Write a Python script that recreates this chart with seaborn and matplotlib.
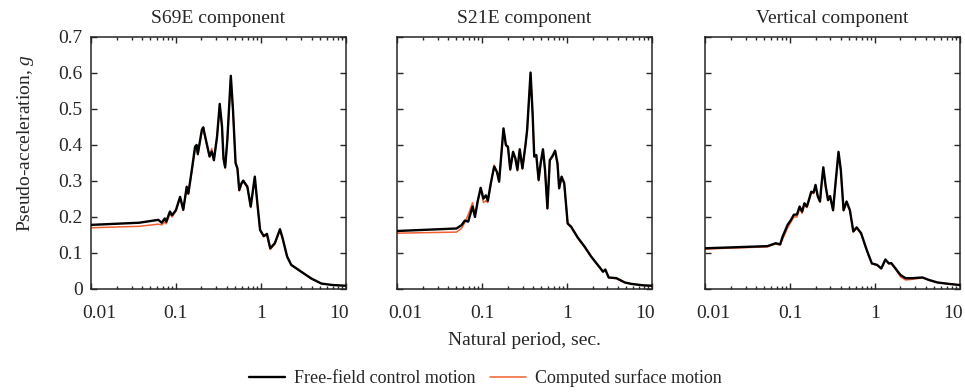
import numpy as np
import pandas as pd
import matplotlib
matplotlib.use("Agg")
import matplotlib.pyplot as plt
from matplotlib.ticker import FuncFormatter
from matplotlib.transforms import ScaledTranslation
import seaborn as sns

# --- data (period in s, pseudo-acceleration in g) ---
period_s69e = [0.01, 0.037, 0.062, 0.068, 0.074, 0.077, 0.085, 0.09, 0.1, 0.112,
               0.122, 0.134, 0.14, 0.154, 0.168, 0.175, 0.181, 0.202, 0.21, 0.217,
               0.249, 0.264, 0.28, 0.305, 0.328, 0.349, 0.363, 0.38, 0.403, 0.443,
               0.47, 0.504, 0.53, 0.557, 0.59, 0.62, 0.694, 0.76, 0.849, 0.91,
               0.98, 1.08, 1.18, 1.29, 1.46, 1.68, 1.8, 2.04, 2.28, 2.99,
               3.94, 5.17, 7.0, 10.0]
free_s69e = [0.178, 0.184, 0.192, 0.184, 0.196, 0.187, 0.215, 0.205, 0.219, 0.256,
             0.22, 0.284, 0.265, 0.331, 0.395, 0.4, 0.375, 0.442, 0.449, 0.432,
             0.368, 0.382, 0.358, 0.423, 0.514, 0.451, 0.363, 0.338, 0.414, 0.592,
             0.497, 0.35, 0.335, 0.275, 0.293, 0.301, 0.284, 0.229, 0.312, 0.238,
             0.164, 0.147, 0.153, 0.113, 0.127, 0.166, 0.142, 0.09, 0.067, 0.048,
             0.029, 0.015, 0.011, 0.009]
surf_s69e = [0.170, 0.174, 0.180, 0.178, 0.186, 0.181, 0.21, 0.2, 0.216, 0.254,
             0.218, 0.282, 0.263, 0.328, 0.386, 0.394, 0.372, 0.436, 0.441, 0.428,
             0.366, 0.39, 0.356, 0.42, 0.51, 0.448, 0.36, 0.335, 0.41, 0.588,
             0.493, 0.348, 0.332, 0.272, 0.29, 0.298, 0.282, 0.226, 0.308, 0.235,
             0.162, 0.145, 0.15, 0.11, 0.124, 0.163, 0.14, 0.088, 0.066, 0.047,
             0.028, 0.015, 0.011, 0.009]

period_s21e = [0.01, 0.05, 0.0573, 0.0628, 0.0687, 0.0774, 0.0826, 0.0888, 0.0964, 0.104,
               0.111, 0.117, 0.127, 0.139, 0.15, 0.159, 0.168, 0.179, 0.191, 0.202,
               0.215, 0.232, 0.247, 0.261, 0.278, 0.299, 0.325, 0.34, 0.373, 0.394,
               0.412, 0.436, 0.464, 0.49, 0.522, 0.552, 0.589, 0.628, 0.675, 0.726,
               0.774, 0.81, 0.865, 0.929, 1.02, 1.12, 1.34, 1.61, 1.93, 2.43,
               2.66, 2.83, 3.1, 3.83, 4.81, 5.78, 8.0, 10.0]
free_s21e = [0.161, 0.168, 0.177, 0.19, 0.187, 0.229, 0.2, 0.243, 0.281, 0.251,
             0.26, 0.245, 0.294, 0.34, 0.325, 0.298, 0.368, 0.446, 0.4, 0.395,
             0.332, 0.381, 0.363, 0.331, 0.388, 0.335, 0.4, 0.442, 0.601, 0.488,
             0.368, 0.372, 0.303, 0.349, 0.388, 0.331, 0.224, 0.358, 0.369, 0.384,
             0.349, 0.28, 0.312, 0.294, 0.182, 0.173, 0.143, 0.118, 0.09, 0.06,
             0.048, 0.054, 0.032, 0.03, 0.018, 0.014, 0.01, 0.009]
surf_s21e = [0.155, 0.158, 0.168, 0.185, 0.206, 0.24, 0.204, 0.243, 0.278, 0.24,
             0.245, 0.24, 0.29, 0.344, 0.325, 0.298, 0.366, 0.443, 0.398, 0.392,
             0.33, 0.378, 0.36, 0.328, 0.385, 0.333, 0.398, 0.44, 0.598, 0.485,
             0.366, 0.37, 0.3, 0.346, 0.385, 0.328, 0.222, 0.356, 0.366, 0.381,
             0.346, 0.278, 0.31, 0.291, 0.18, 0.171, 0.141, 0.116, 0.089, 0.059,
             0.047, 0.053, 0.031, 0.029, 0.018, 0.014, 0.01, 0.009]

period_vert = [0.01, 0.0542, 0.068, 0.0767, 0.0818, 0.0871, 0.0938, 0.103, 0.111, 0.121,
               0.13, 0.139, 0.148, 0.158, 0.167, 0.178, 0.19, 0.2, 0.213, 0.226,
               0.234, 0.247, 0.264, 0.281, 0.297, 0.322, 0.347, 0.373, 0.397, 0.428,
               0.464, 0.508, 0.557, 0.611, 0.688, 0.803, 0.921, 1.06, 1.19, 1.33,
               1.46, 1.56, 1.75, 2.0, 2.3, 2.76, 3.63, 4.35, 5.47, 7.5, 10.0]
free_vert = [0.113, 0.119, 0.127, 0.124, 0.145, 0.16, 0.178, 0.192, 0.206, 0.207,
             0.229, 0.215, 0.238, 0.229, 0.247, 0.27, 0.268, 0.289, 0.257, 0.243,
             0.284, 0.338, 0.284, 0.247, 0.258, 0.219, 0.303, 0.381, 0.331, 0.219,
             0.243, 0.219, 0.16, 0.171, 0.155, 0.108, 0.071, 0.067, 0.057, 0.082,
             0.071, 0.072, 0.057, 0.039, 0.03, 0.03, 0.032, 0.025, 0.018, 0.014, 0.011]
surf_vert = [0.111, 0.117, 0.125, 0.122, 0.138, 0.152, 0.17, 0.186, 0.2, 0.2,
             0.224, 0.21, 0.233, 0.226, 0.244, 0.266, 0.265, 0.286, 0.255, 0.241,
             0.282, 0.335, 0.282, 0.245, 0.256, 0.217, 0.3, 0.377, 0.328, 0.217,
             0.241, 0.217, 0.158, 0.169, 0.153, 0.106, 0.07, 0.066, 0.056, 0.08,
             0.07, 0.07, 0.055, 0.034, 0.025, 0.027, 0.031, 0.024, 0.018, 0.014, 0.011]

titles = ["S69E component", "S21E component", "Vertical component"]
panels = [(period_s69e, free_s69e, surf_s69e),
          (period_s21e, free_s21e, surf_s21e),
          (period_vert, free_vert, surf_vert)]

sns.set_theme(style="ticks")
plt.rcParams["font.family"] = ["Liberation Serif", "DejaVu Serif"]
plt.rcParams["mathtext.fontset"] = "custom"
plt.rcParams["mathtext.it"] = "Liberation Serif:italic"
plt.rcParams["mathtext.rm"] = "Liberation Serif"

fig = plt.figure(figsize=(9.65, 3.92), dpi=100)
lefts = [0.0943, 0.4115, 0.7306]
axes = [fig.add_axes([l, 0.2628, 0.264, 0.643]) for l in lefts]

fmt = FuncFormatter(lambda v, p: f"{v:g}")
for i, (ax, (per, ff, cs)) in enumerate(zip(axes, panels)):
    df = pd.DataFrame({"period": per, "free": ff, "surf": cs})
    sns.lineplot(data=df, x="period", y="surf", ax=ax, color="#f0602e",
                 linewidth=1.1, estimator=None, label="Computed surface motion",
                 zorder=2)
    sns.lineplot(data=df, x="period", y="free", ax=ax, color="black",
                 linewidth=1.7, estimator=None, label="Free-field control motion",
                 zorder=3)
    ax.set_xscale("log")
    ax.set_xlim(0.01, 10)
    ax.set_ylim(0, 0.7)
    ax.set_yticks(np.arange(0, 0.71, 0.1))
    ax.set_xticks([0.01, 0.1, 1, 10])
    ax.xaxis.set_major_formatter(fmt)
    ax.yaxis.set_major_formatter(fmt)
    ax.tick_params(which="both", direction="in", top=True, right=True,
                   labelsize=14, width=1.0)
    ax.tick_params(axis="y", pad=6)
    ax.tick_params(axis="x", pad=11.5)
    ax.tick_params(which="major", length=4)
    ax.tick_params(which="minor", length=2.3)
    for s in ax.spines.values():
        s.set_linewidth(1.1)
    ax.set_title(titles[i], fontsize=14, pad=10)
    ax.set_xlabel("")
    ax.set_ylabel("")
    if i > 0:
        ax.tick_params(labelleft=False)
    ax.get_legend().remove()
    # nudge end labels inwards, as in the reference
    xl = ax.get_xticklabels()
    xl[0].set_transform(xl[0].get_transform() + ScaledTranslation(0.08, 0, fig.dpi_scale_trans))
    xl[-1].set_transform(xl[-1].get_transform() + ScaledTranslation(-0.07, 0, fig.dpi_scale_trans))

axes[0].set_ylabel("Pseudo-acceleration, $g$", fontsize=14)
axes[0].yaxis.set_label_coords(-0.215, 0.58)
axes[1].set_xlabel("Natural period, sec.", fontsize=14, labelpad=7)

handles, labels = axes[0].get_legend_handles_labels()
order = [1, 0]
fig.legend([handles[k] for k in order], [labels[k] for k in order],
           loc="center", bbox_to_anchor=(0.503, 0.036), ncol=2, frameon=False,
           fontsize=13, handlelength=2.0, handletextpad=0.5, columnspacing=0.8)

plt.savefig("out.png", dpi=100)
